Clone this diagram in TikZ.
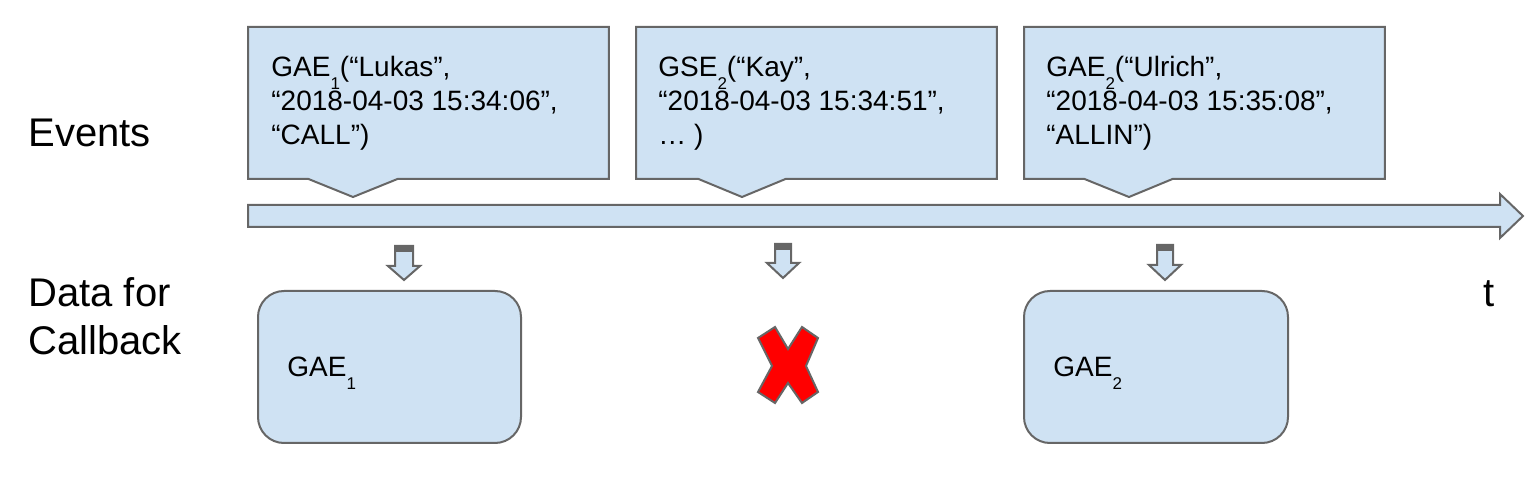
\documentclass[tikz,border=0pt]{standalone}
\usepackage{fontspec}
\setmainfont{Liberation Sans}
\usetikzlibrary{calc}
\definecolor{boxblue}{HTML}{CFE2F3}
\definecolor{edgegray}{HTML}{666666}
\newcommand{\lowsub}[1]{\raisebox{-6.5pt}{\fontsize{8.5}{8.5}\selectfont #1}}
\begin{document}
\begin{tikzpicture}[x=0.5pt, y=-0.5pt]
\tikzstyle{shape_style} = [draw=edgegray, line width=1pt, fill=boxblue, line join=miter]
\tikzstyle{frame_style} = [minimum width=180pt, minimum height=75.5pt, inner sep=0pt, anchor=north west]
\tikzstyle{text_style} = [font=\fontsize{14}{17}\selectfont, align=left, inner sep=0pt, anchor=base west]
\tikzstyle{label_style} = [font=\fontsize{20}{24}\selectfont, align=left, inner sep=0pt, anchor=base west]
\tikzstyle{data_style} = [shape_style, rounded corners=13pt, minimum height=76pt, inner sep=0pt, anchor=north west]
\tikzstyle{cross_style} = [draw=edgegray, line width=1pt, fill=red, line join=miter]
    \useasboundingbox (0,0) rectangle (1538,486);

    \node[label_style] (events) at (28,147) {Events};
    \node[label_style] (data) at (28,355) {Data for\\Callback};
    \node[label_style] (time) at (1483,307) {t};

    % timeline
    \draw[shape_style] (248,205) -- (1500,205) -- (1500,194) -- (1523,216)
        -- (1500,238) -- (1500,227) -- (248,227) -- cycle;

    % events
    \node[frame_style] (ev1) at (248,27) {};
    \node[frame_style] (ev2) at (636,27) {};
    \node[frame_style] (ev3) at (1024,27) {};
    \coordinate (tip1) at (353,197);
    \coordinate (tip2) at (742,197);
    \coordinate (tip3) at (1129,197);

    \draw[shape_style] (ev1.north west) -- (ev1.north east) -- (ev1.south east)
        -- ($(tip1 |- ev1.south)+(45,0)$) -- (tip1) -- ($(tip1 |- ev1.south)-(45,0)$)
        -- (ev1.south west) -- cycle;
    \draw[shape_style] (ev2.north west) -- (ev2.north east) -- (ev2.south east)
        -- ($(tip2 |- ev2.south)+(44,0)$) -- (tip2) -- ($(tip2 |- ev2.south)-(44,0)$)
        -- (ev2.south west) -- cycle;
    \draw[shape_style] (ev3.north west) -- (ev3.north east) -- (ev3.south east)
        -- ($(tip3 |- ev3.south)+(44,0)$) -- (tip3) -- ($(tip3 |- ev3.south)-(45,0)$)
        -- (ev3.south west) -- cycle;

    \node[text_style] (t1) at (271,145) {GAE\lowsub{1}(“Lukas”,\\“2018-04-03 15:34:06”,\\“CALL”)};
    \node[text_style] (t2) at (658,145) {GSE\lowsub{2}(“Kay”,\\“2018-04-03 15:34:51”,\\… )};
    \node[text_style] (t3) at (1046,145) {GAE\lowsub{2}(“Ulrich”,\\“2018-04-03 15:35:08”,\\“ALLIN”)};

    % small arrows
    \draw[shape_style] (395,246) -- (413,246) -- (413,266) -- (420,266) -- (404,280)
        -- (388,266) -- (395,266) -- cycle;
    \fill[edgegray] (395,246) rectangle (413,252);
    \draw[shape_style] (775,244) -- (791,244) -- (791,263) -- (799,263) -- (783,278)
        -- (767,263) -- (775,263) -- cycle;
    \fill[edgegray] (775,244) rectangle (791,250);
    \draw[shape_style] (1157,245) -- (1173,245) -- (1173,265) -- (1181,265) -- (1165,280)
        -- (1149,265) -- (1157,265) -- cycle;
    \fill[edgegray] (1157,245) rectangle (1173,251);

    % data for callback
    \node[data_style, minimum width=131.5pt] (d1) at (257,290) {};
    \node[data_style, minimum width=132pt] (d3) at (1023,290) {};
    \node[text_style] (g1) at (287,377) {GAE\lowsub{1}};
    \node[text_style] (g3) at (1053,377) {GAE\lowsub{2}};

    % no data
    \draw[cross_style] (775,327) -- (788,349) -- (802,327) -- (818,338) -- (806,366)
        -- (818,392) -- (802,403) -- (788,383) -- (775,403) -- (758,392)
        -- (772,366) -- (758,338) -- cycle;
\end{tikzpicture}
\end{document}
